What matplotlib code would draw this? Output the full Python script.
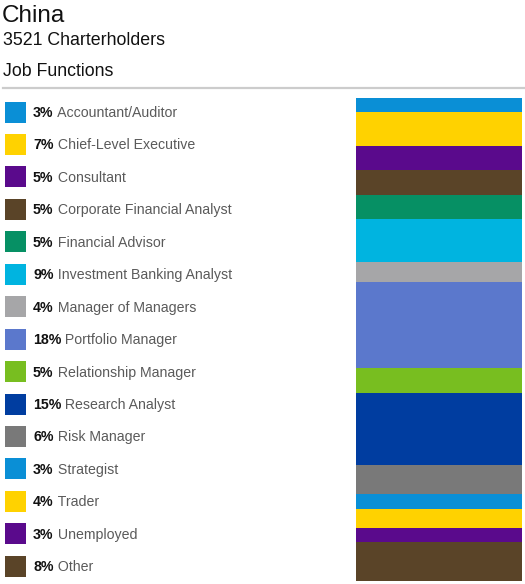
import matplotlib
matplotlib.use("Agg")
import matplotlib.pyplot as plt
import numpy as np

plt.rcParams['font.family'] = ['Liberation Sans', 'DejaVu Sans']

title = "China"
subtitle = "3521 Charterholders"
section = "Job Functions"

categories = ["Accountant/Auditor", "Chief-Level Executive", "Consultant",
              "Corporate Financial Analyst", "Financial Advisor",
              "Investment Banking Analyst", "Manager of Managers",
              "Portfolio Manager", "Relationship Manager", "Research Analyst",
              "Risk Manager", "Strategist", "Trader", "Unemployed", "Other"]
values = [3, 7, 5, 5, 5, 9, 4, 18, 5, 15, 6, 3, 4, 3, 8]
colors = ["#0A8FD6", "#FFD200", "#5A0A8C", "#5A4428", "#069064",
          "#00B4E0", "#A6A6A8", "#5B78CC", "#78BE20", "#003DA0",
          "#797979", "#0A8FD6", "#FFD200", "#5A0A8C", "#5A4428"]

W, H = 525, 584
fig = plt.figure(figsize=(W / 100, H / 100), dpi=100)
fig.patch.set_facecolor("white")

def fy(px):
    return 1 - px / H

def fx(px):
    return px / W

# Header
fig.text(fx(2), fy(22), title, fontsize=17.5, color="#111111", va="baseline", ha="left")
fig.text(fx(3), fy(45), subtitle, fontsize=12.8, color="#111111", va="baseline", ha="left")
fig.text(fx(3), fy(76), section, fontsize=12.8, color="#111111", va="baseline", ha="left")
fig.add_artist(plt.Line2D([fx(3), fx(525)], [fy(87.5), fy(87.5)],
                          color="#cccccc", lw=1.6, transform=fig.transFigure))

# Stacked bar
bar_ax = fig.add_axes([fx(356), fy(581), fx(522) - fx(356), (581 - 98) / H])
bottoms = np.concatenate([[0], np.cumsum(values)[:-1]])
bar_ax.bar([0] * len(values), values, bottom=bottoms, width=1.0, color=colors,
           linewidth=0)
bar_ax.set_xlim(-0.5, 0.5)
bar_ax.set_ylim(sum(values), 0)
bar_ax.axis("off")

# Legend list
n = len(categories)
row0, step = 112.0, 32.45
top_px = row0 - step / 2
bot_px = row0 + step * (n - 1) + step / 2
leg_ax = fig.add_axes([0, fy(bot_px), fx(350), (bot_px - top_px) / H])
leg_ax.set_xlim(0, 350)
leg_ax.set_ylim(n - 0.5, -0.5)
leg_ax.axis("off")
ypos = np.arange(n)
leg_ax.barh(ypos, [21] * n, left=5, height=21 / step, color=colors, linewidth=0)
for i, (cat, v) in enumerate(zip(categories, values)):
    t = leg_ax.text(33, i + 0.03, f"{v}%", fontsize=10.2, fontweight="bold",
                    color="#111111", va="center", ha="left")
    leg_ax.annotate(" " + cat, xy=(1, 0), xycoords=t, fontsize=10.2,
                    color="#5a5a5a", va="bottom", ha="left")

fig.savefig("out.png", dpi=100, facecolor="white")
